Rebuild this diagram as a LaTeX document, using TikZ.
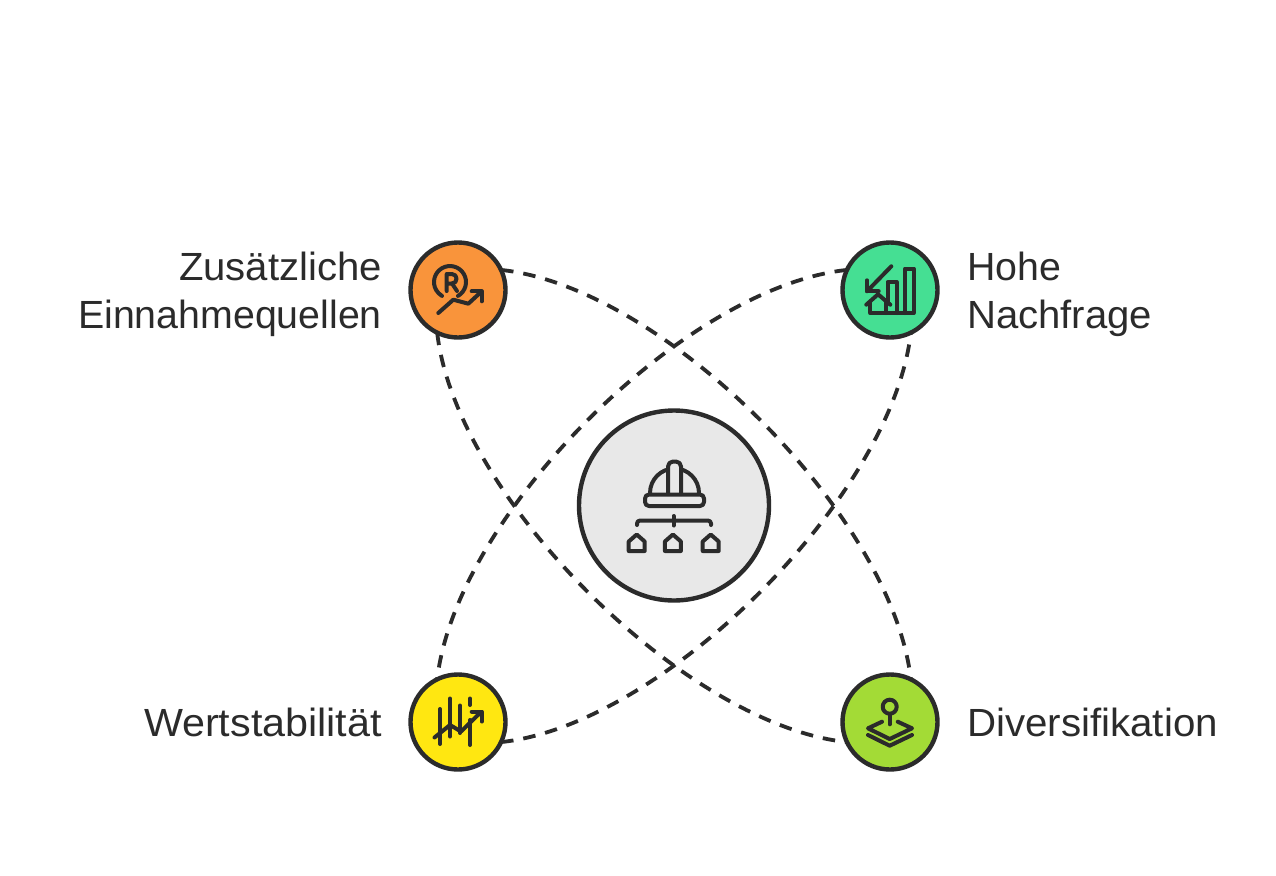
\documentclass[tikz,border=0pt]{standalone}
\usepackage{fontspec}
\setmainfont{Liberation Sans}
\definecolor{ink}{HTML}{2B2B2B}
\definecolor{corange}{HTML}{F9943B}
\definecolor{cmint}{HTML}{45DF93}
\definecolor{cyellow}{HTML}{FFE711}
\definecolor{clime}{HTML}{A3DB36}
\definecolor{cgray}{HTML}{E8E8E8}
\tikzset{
  bubble/.style={circle,draw=ink,line width=4.4pt,minimum size=95pt,inner sep=0pt,outer sep=0pt},
  hub/.style={circle,draw=ink,fill=cgray,line width=4.4pt,minimum size=190pt,inner sep=0pt,outer sep=0pt},
  link/.style={draw=ink,line width=3.8pt,dash pattern=on 12.5pt off 10pt},
  glyph/.style={draw=ink,line width=4pt,line cap=round,line join=round},
  lab/.style={text=ink,inner sep=0pt,font=\fontsize{39.3}{48}\selectfont}
}
\newcommand{\hstretch}[2]{\scalebox{#1}[1]{#2}}
\begin{document}
\begin{tikzpicture}[x=1pt,y=-1pt]
\useasboundingbox (0,0) rectangle (1276,875);
\fill[white] (0,0) rectangle (1276,875);
\node[hub] (hubc) at (674,505.5) {};
\node[bubble,fill=corange] (tl) at (458,290) {};
\node[bubble,fill=cmint] (tr) at (890,290) {};
\node[bubble,fill=cyellow] (bl) at (458,722) {};
\node[bubble,fill=clime] (dr) at (890,722) {};
% connectors
\draw[link] (tl.25) .. controls (663,287) and (892,515) .. (dr.64);
\draw[link] (tr.155) .. controls (685,287) and (456,515) .. (bl.116);
\draw[link] (tl.-116) .. controls (456,497) and (685,725) .. (dr.-155);
\draw[link] (bl.-25) .. controls (663,725) and (892,497) .. (tr.-64);
% labels
\node[lab,anchor=east,align=right] (ltl) at (382,294) {\hstretch{1.02}{Zusätzliche}\\\hstretch{1.0}{Einnahmequellen}};
\node[lab,anchor=west,align=left] (ltr) at (967,294) {\hstretch{1.0}{Hohe}\\\hstretch{1.02}{Nachfrage}};
\node[lab,anchor=base east] (lbl) at (382,736) {\hstretch{1.05}{Wertstabilität}};
\node[lab,anchor=base west] (ldr) at (967,736) {\hstretch{1.025}{Diversifikation}};
% hub icon
\draw[glyph] (650,493) arc[start angle=180,end angle=360,radius=24.5];
\draw[glyph,fill=cgray,rounded corners=5pt] (668,494) -- (668,461.5) -- (681,461.5) -- (681,494);
\draw[glyph,rounded corners=4pt] (645,494.5) rectangle (704,506);
\draw[glyph,rounded corners=3pt] (637,525) -- (637,520.5) -- (711,520.5) -- (711,525);
\draw[glyph] (673.5,516) -- (673.5,525.5);
\foreach \hx in {636.7,672.9,710.7}{
  \draw[glyph] (\hx-8,551) -- (\hx-8,541.5) -- (\hx,534.5) -- (\hx+8,541.5) -- (\hx+8,551) -- cycle;
}
% top-left icon
\draw[glyph] (458,295.9) arc[start angle=60,end angle=-240,radius=16];
\draw[glyph] (446.7,291) -- (446.7,274) -- (452,274) .. controls (458,274) and (458,283.5) .. (452,283.5) -- (446.7,283.5);
\draw[glyph] (452,283.5) -- (457,291);
\draw[glyph] (438.3,313) -- (453.3,299.7) -- (468.3,303.7) -- (481,292);
\draw[glyph] (471.7,291.3) -- (481.7,291.3) -- (481.7,301.3);
% top-right icon
\draw[glyph] (905,313) -- (905,268.5) -- (913.5,268.5) -- (913.5,313) -- (870.3,313) -- (870.3,303);
\draw[glyph] (887.5,303) -- (887.5,282) -- (896.5,282) -- (896.5,313);
\draw[glyph] (866.3,304.7) -- (878,294.3) -- (890.3,304.7);
\draw[glyph] (885.5,303) -- (885.5,313);
\draw[glyph] (891.3,266.3) -- (867,291.3);
\draw[glyph] (867,280.3) -- (867,291.3) -- (878.7,291.3);
% bottom-left icon
\draw[glyph] (440,709) -- (440,744);
\draw[glyph] (450,698.5) -- (450,736.5);
\draw[glyph] (460,705.5) -- (460,733);
\draw[glyph] (470,698.5) -- (470,705);
\draw[glyph] (470,720) -- (470,745);
\draw[glyph] (434.5,737.5) -- (450,725) -- (461,731.5) -- (481,712);
\draw[glyph] (471.7,711.5) -- (481.7,711.5) -- (481.7,721.5);
% bottom-right icon
\draw[glyph] (889.7,706.7) circle[radius=7];
\draw[glyph] (889.7,714) -- (889.7,724.3);
\draw[glyph] (882,721.7) -- (868,728.3) -- (889.7,739) -- (912,728.3) -- (897.7,721.7);
\draw[glyph] (868,735) -- (889.7,745.7) -- (912,735);
\end{tikzpicture}
\end{document}
